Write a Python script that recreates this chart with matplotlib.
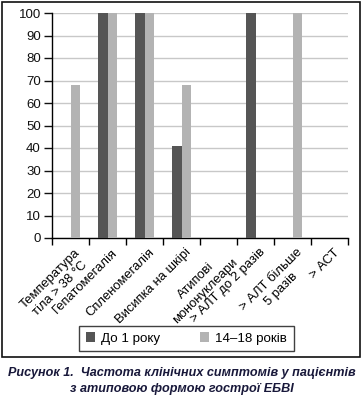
import matplotlib
matplotlib.use("Agg")
import matplotlib.pyplot as plt
import numpy as np
from matplotlib.patches import Rectangle

plt.rcParams['font.family'] = ['Liberation Sans', 'DejaVu Sans']

categories = ["Температура\nтіла > 38 °С", "Гепатомегалія", "Спленомегалія",
              "Висипка на шкірі", "Атипові\nмононуклеари", "> АЛТ до 2 разів",
              "> АЛТ більше\n5 разів", "> АСТ"]
under_1 = [0, 100, 100, 41, 0, 100, 0, 0]
age_14_18 = [68, 100, 100, 68, 0, 0, 100, 0]
series_names = ["До 1 року", "14–18 років"]

fig = plt.figure(figsize=(3.63, 3.99), dpi=100)
ax = fig.add_axes([52 / 363, 1 - 238 / 399, 296 / 363, 225 / 399])

x = np.arange(len(categories))
w = 0.25
ax.bar(x - w / 2, under_1, w, color="#555555", label=series_names[0], zorder=3)
ax.bar(x + w / 2, age_14_18, w, color="#b3b3b3", label=series_names[1], zorder=3)

ax.set_xlim(-0.5, len(categories) - 0.5)
ax.set_ylim(0, 100)
ax.set_yticks(range(0, 101, 10))
ax.yaxis.grid(True, color="#c8c8c8", linewidth=1, zorder=0)
ax.tick_params(axis="y", labelsize=9.5, length=6, width=1, colors="#111111", pad=2)

ax.set_xticks(x + 0.1)
ax.set_xticklabels(categories, rotation=45, ha="right", rotation_mode="anchor",
                   fontsize=9.4, multialignment="center")
ax.tick_params(axis="x", which="major", length=0, pad=6)
ax.set_xticks(np.arange(-0.5, len(categories), 1), minor=True)
ax.tick_params(axis="x", which="minor", length=5, width=1)

for s in ["top", "right"]:
    ax.spines[s].set_visible(False)
ax.spines["left"].set_linewidth(1)
ax.spines["bottom"].set_linewidth(1)

leg = fig.legend(loc="center", bbox_to_anchor=(186.5 / 363, 1 - 338.5 / 399), ncol=2,
                 fontsize=9.6, frameon=True, fancybox=False, edgecolor="#111111",
                 handlelength=0.7, handleheight=0.7, columnspacing=3.0,
                 borderpad=0.5, handletextpad=0.45, borderaxespad=0)
leg.get_frame().set_linewidth(1)

fig.patches.append(Rectangle((2 / 363, 1 - 357 / 399), 358 / 363, 355 / 399,
                             transform=fig.transFigure, fill=False,
                             edgecolor="#111111", linewidth=1.2))

cap = "#18183a"
fig.text(0.5, 1 - 373 / 399, "Рисунок 1.  Частота клінічних симптомів у пацієнтів",
         ha="center", va="center", fontsize=9.1, fontweight="bold", fontstyle="italic", color=cap)
fig.text(0.5, 1 - 389 / 399, "з атиповою формою гострої ЕБВІ",
         ha="center", va="center", fontsize=9.1, fontweight="bold", fontstyle="italic", color=cap)

fig.savefig("out.png", dpi=100)
